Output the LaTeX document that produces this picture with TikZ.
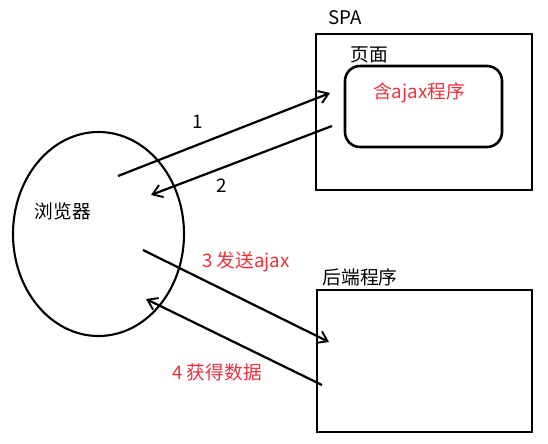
\documentclass[tikz,border=0pt]{standalone}
\usepackage{fontspec}
\setmainfont{Noto Sans CJK SC}
\usetikzlibrary{arrows.meta,shapes.geometric}
\definecolor{tipred}{RGB}{235,50,60}
\tikzset{box/.style={draw,line width=2.2pt,inner sep=0pt},
  flow/.style={line width=1.9pt,-{Straight Barb[length=8pt,width=11pt,line width=1.6pt]}},
  lbl/.style={align=center,inner sep=0pt,font=\fontsize{16}{18}\selectfont},
  redlbl/.style={lbl,text=tipred}}

\begin{document}
\begin{tikzpicture}[x=0.03cm,y=-0.03cm]
\useasboundingbox (0,0) rectangle (548,444);
\node[draw,ellipse,line width=1.8pt,minimum width=5.13cm,minimum height=6.12cm] (browser) at (98.5,234){};
\node[lbl] (browsertext) at (63,211){浏览器};
\node[box,minimum width=6.48cm,minimum height=4.68cm] (spa) at (424,112){};
\node[box,rounded corners=0.45cm,minimum width=4.71cm,minimum height=2.43cm] (page) at (423.5,106.5){};
\node[box,minimum width=6.45cm,minimum height=4.26cm] (backend) at (424.5,361){};
\node[lbl] (spatext) at (345,18){SPA};
\node[lbl] (pagetext) at (369,55){页面};
\node[redlbl] (ajaxtext) at (419,93){含ajax程序};
\node[lbl] (backendtext) at (360,277){后端程序};
% request and reply arrows
\coordinate (a1s) at (118,176);\coordinate (a1e) at (330,93);
\coordinate (a2s) at (332,126);\coordinate (a2e) at (151,195);
\coordinate (a3s) at (143,250);\coordinate (a3e) at (329,342);
\coordinate (a4s) at (322,385);\coordinate (a4e) at (146,299);
\draw[flow] (a1s) -- (a1e);
\draw[flow] (a2s) -- (a2e);
\draw[flow] (a3s) -- (a3e);
\draw[flow] (a4s) -- (a4e);
\node[lbl] (one) at (198,122){1};
\node[lbl] (two) at (222,186){2};
\node[redlbl] (three) at (246,262){3 发送ajax};
\node[redlbl] (four) at (217,372){4 获得数据};
\end{tikzpicture}
\end{document}
